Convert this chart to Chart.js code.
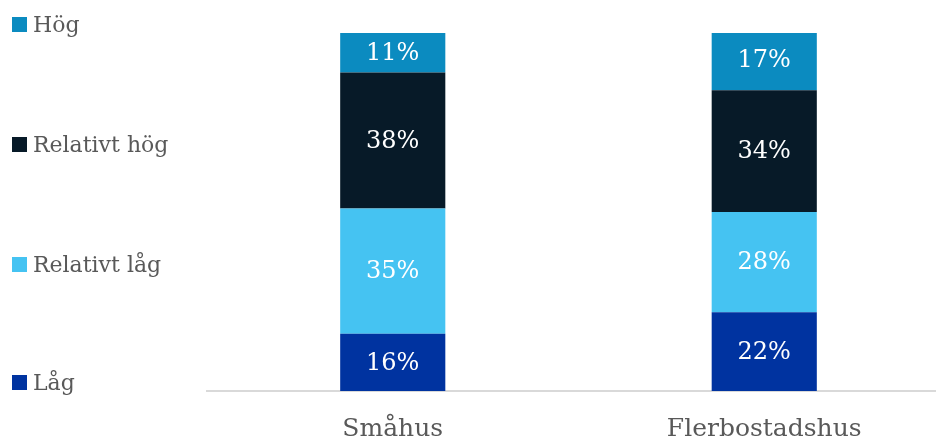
<!DOCTYPE html>
<html>
<head>
<meta charset="utf-8">
<script src="https://cdn.jsdelivr.net/npm/chart.js@4/dist/chart.umd.min.js"></script>
<style>
  html, body { margin: 0; padding: 0; background: #fff; overflow: hidden; }
  #wrap { position: relative; width: 950px; height: 441px; }
  #legend { position: absolute; left: 0; top: 0; font-family: "DejaVu Serif", serif; color: #595959; }
  .item { position: absolute; left: 12px; white-space: nowrap; font-size: 22px; line-height: 26px; }
  .item span.box { display: inline-block; width: 15px; height: 15px; margin-right: 6px; vertical-align: 0px; }
</style>
</head>
<body>
<div id="wrap">
  <canvas id="myChart" width="950" height="441"></canvas>
  <div id="legend"></div>
</div>
<script>
// DATOS
const kategorier = ['Småhus', 'Flerbostadshus']
const serier = ['Låg', 'Relativt låg', 'Relativt hög', 'Hög']
const lag         = [16, 22]
const relativtLag = [35, 28]
const relativtHog = [38, 34]
const hog         = [11, 17]
const farger = ['#0033a0', '#45c3f2', '#071a28', '#0b8bc0']

const FONT = '"DejaVu Serif", serif'

// legend (top = Hög, bottom = Låg)
const legendTop = { 'Hög': 12, 'Relativt hög': 132, 'Relativt låg': 252, 'Låg': 370 }
let legend = document.getElementById('legend')
serier.forEach((s, i) => {
  let d = document.createElement('div')
  d.className = 'item'
  d.style.top = legendTop[s] + 'px'
  d.innerHTML = '<span class="box" style="background:' + farger[i] + '"></span>' + s
  legend.appendChild(d)
})

// etiquetas dentro de las barras
const etiquetas = {
  id: 'etiquetas',
  afterDatasetsDraw(chart) {
    let ctx = chart.ctx
    ctx.save()
    ctx.fillStyle = '#ffffff'
    ctx.font = '24px ' + FONT
    ctx.textAlign = 'center'
    ctx.textBaseline = 'middle'
    chart.data.datasets.forEach((ds, i) => {
      chart.getDatasetMeta(i).data.forEach((bar, j) => {
        let y = (bar.y + bar.base) / 2
        ctx.fillText(ds.data[j] + '%', bar.x, y + 1)
      })
    })
    ctx.restore()
  }
}

var ctx = document.getElementById('myChart').getContext('2d')
var chart = new Chart(ctx, {
  type: 'bar',
  data: {
    labels: kategorier,
    datasets: [
      { label: serier[0], data: lag,         backgroundColor: farger[0] },
      { label: serier[1], data: relativtLag, backgroundColor: farger[1] },
      { label: serier[2], data: relativtHog, backgroundColor: farger[2] },
      { label: serier[3], data: hog,         backgroundColor: farger[3] }
    ]
  },
  options: {
    responsive: false,
    animation: false,
    layout: { padding: { left: 207, top: 33, right: 0, bottom: 0 } },
    datasets: { bar: { categoryPercentage: 1, barPercentage: 0.283, borderWidth: 0 } },
    plugins: { legend: { display: false }, tooltip: { enabled: false } },
    scales: {
      x: {
        stacked: true,
        grid: { display: false },
        border: { color: '#d9d9d9', width: 2 },
        ticks: { color: '#595959', font: { family: FONT, size: 25 }, padding: 15 },
        afterFit(scale) { scale.height = 50 }
      },
      y: {
        stacked: true,
        display: false,
        min: 0,
        max: 100
      }
    }
  },
  plugins: [etiquetas]
})
</script>
</body>
</html>
